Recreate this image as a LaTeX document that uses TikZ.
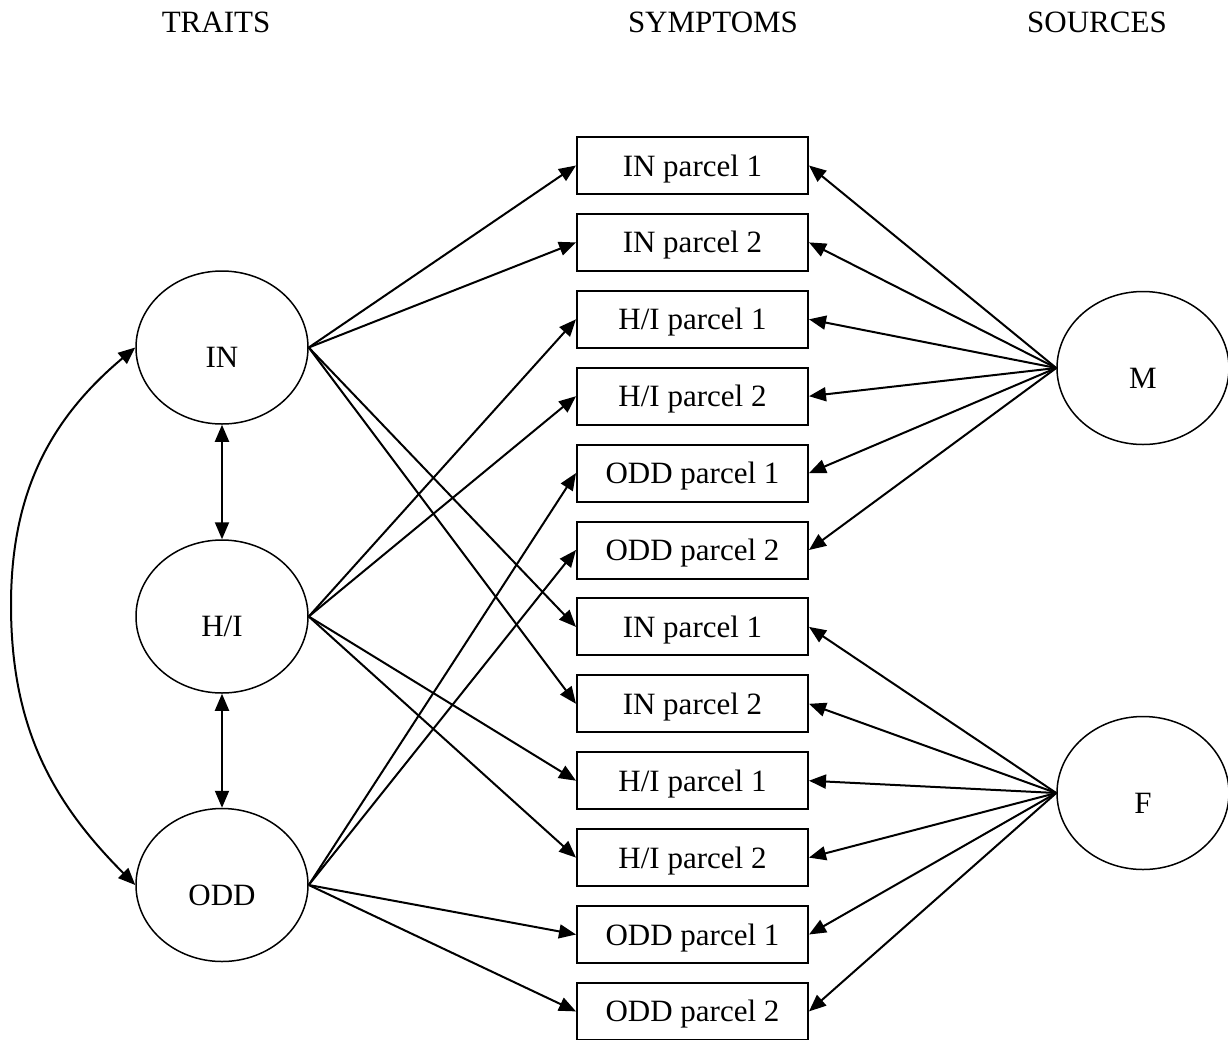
\documentclass[tikz,border=0pt]{standalone}
\usepackage{fontspec}
\setmainfont{Liberation Serif}
\usetikzlibrary{arrows.meta,positioning,shapes.geometric}
\tikzset{
  trait/.style  ={ellipse, draw, line width=.75pt, minimum width=86pt, minimum height=76.5pt,
                  inner sep=0pt, text height=20pt, text depth=0pt, font=\fontsize{15.5}{18}\selectfont},
  sym/.style    ={rectangle, draw, line width=1pt, minimum width=115.5pt, minimum height=28.5pt,
                  inner sep=0pt, text height=10.5pt, text depth=0pt, font=\fontsize{15.5}{18}\selectfont},
  hdr/.style    ={inner sep=0pt, font=\fontsize{15.5}{18}\selectfont},
  arr/.style    ={-{Triangle[length=8.5pt,width=7pt]}, line width=1pt},
  biarr/.style  ={{Triangle[length=8.5pt,width=7pt]}-{Triangle[length=8.5pt,width=7pt]}, line width=1pt},
}
\begin{document}
\begin{tikzpicture}[x=0.5pt,y=-0.5pt,node distance=8.95pt]
  \useasboundingbox (0,0) rectangle (1228,1040);
  % column titles
  \node[hdr] (h1) at (216,22) {TRAITS};
  \node[hdr] (h2) at (713,22) {SYMPTOMS};
  \node[hdr] (h3) at (1097,22) {SOURCES};
  % traits and sources
  \node[trait] (in)  at (222,347.5) {IN};
  \node[trait] (hi)  at (222,616.5) {H/I};
  \node[trait] (odd) at (222,885)   {ODD};
  \node[trait] (m)   at (1143,368)  {M};
  \node[trait] (f)   at (1143,793)  {F};
  % symptom parcels
  \node[sym] (s1) at (692.5,165.5) {IN parcel 1};
  \node[sym,below=of s1]  (s2)  {IN parcel 2};
  \node[sym,below=of s2]  (s3)  {H/I parcel 1};
  \node[sym,below=of s3]  (s4)  {H/I parcel 2};
  \node[sym,below=of s4]  (s5)  {ODD parcel 1};
  \node[sym,below=of s5]  (s6)  {ODD parcel 2};
  \node[sym,below=of s6]  (s7)  {IN parcel 1};
  \node[sym,below=of s7]  (s8)  {IN parcel 2};
  \node[sym,below=of s8]  (s9)  {H/I parcel 1};
  \node[sym,below=of s9]  (s10) {H/I parcel 2};
  \node[sym,below=of s10] (s11) {ODD parcel 1};
  \node[sym,below=of s11] (s12) {ODD parcel 2};
  % loadings
  \foreach \a/\b in {in/s1,in/s2,in/s7,in/s8,hi/s3,hi/s4,hi/s9,hi/s10,odd/s5,odd/s6,odd/s11,odd/s12}{\draw[arr] (\a.east) -- (\b.west);}
  \foreach \b in {s1,s2,s3,s4,s5,s6}{\draw[arr] (m.west) -- (\b.east);}
  \foreach \b in {s7,s8,s9,s10,s11,s12}{\draw[arr] (f.west) -- (\b.east);}
  % correlations
  \draw[biarr] (in.south) -- (hi.north);
  \draw[biarr] (hi.south) -- (odd.north);
  \coordinate (bend) at (11,605);
  \draw[biarr] (in.west) to[out=220,in=90] (bend) to[out=-90,in=135] (odd.west);
\end{tikzpicture}
\end{document}
